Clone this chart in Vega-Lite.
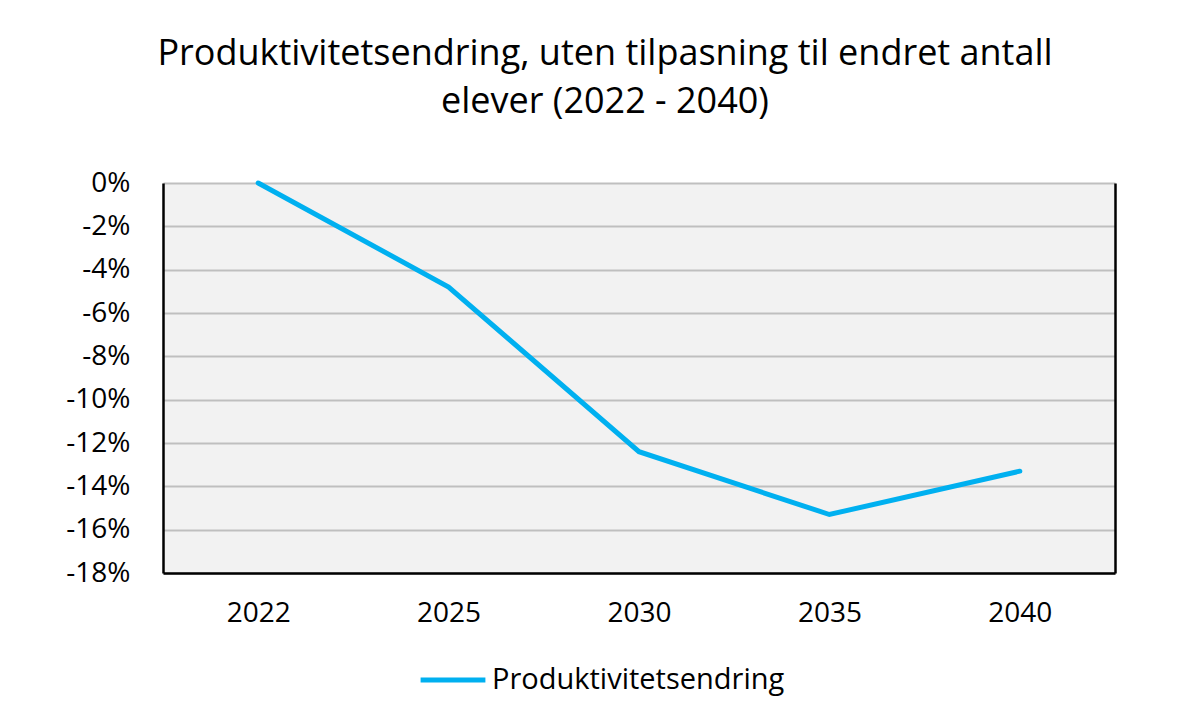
{
  "$schema": "https://vega.github.io/schema/vega-lite/v6.json",
  "autosize": "none",
  "width": 952,
  "height": 390,
  "padding": {"left": 163, "top": 183, "right": 72, "bottom": 140},
  "background": "white",
  "title": {
    "text": ["Produktivitetsendring, uten tilpasning til endret antall", "elever (2022 - 2040)"],
    "font": "Open Sans",
    "fontSize": 36,
    "fontWeight": "normal",
    "color": "#000000",
    "lineHeight": 48,
    "anchor": "middle",
    "dx": -34,
    "offset": 48
  },
  "data": {
    "values": [
      {"year": "2022", "value": 0.0, "series": "Produktivitetsendring"},
      {"year": "2025", "value": -0.048, "series": "Produktivitetsendring"},
      {"year": "2030", "value": -0.124, "series": "Produktivitetsendring"},
      {"year": "2035", "value": -0.153, "series": "Produktivitetsendring"},
      {"year": "2040", "value": -0.133, "series": "Produktivitetsendring"}
    ]
  },
  "layer": [
    {
      "mark": {"type": "line", "strokeWidth": 5, "strokeCap": "round"},
      "encoding": {
        "x": {
          "field": "year", "type": "ordinal",
          "scale": {"type": "point", "padding": 0.5},
          "axis": {
            "title": null, "labelAngle": 0, "labelFont": "Open Sans", "labelFontSize": 28,
            "labelColor": "#000000", "labelPadding": 26, "ticks": false,
            "domainColor": "#000000", "domainWidth": 2.5, "grid": false
          }
        },
        "y": {
          "field": "value", "type": "quantitative",
          "scale": {"domain": [-0.18, 0], "nice": false},
          "axis": {
            "title": null, "format": ".0%", "labelExpr": "replace(datum.label, '−', '-')",
            "values": [0, -0.02, -0.04, -0.06, -0.08, -0.1, -0.12, -0.14, -0.16, -0.18],
            "labelFont": "Open Sans", "labelFontSize": 28, "labelColor": "#000000",
            "labelPadding": 33, "ticks": false, "domainColor": "#000000", "domainWidth": 2.5,
            "grid": true, "gridColor": "#bfbfbf", "gridWidth": 2
          }
        },
        "color": {
          "field": "series", "type": "nominal",
          "scale": {"range": ["#00B0F0"]},
          "legend": {
            "title": null, "orient": "none", "legendX": 255, "legendY": 462, "direction": "horizontal",
            "symbolType": "stroke", "symbolStrokeWidth": 5, "symbolSize": 4200,
            "labelFont": "Open Sans", "labelFontSize": 29, "labelColor": "#000000",
            "labelOffset": 4, "labelLimit": 0
          }
        }
      }
    },
    {
      "mark": {"type": "line", "strokeOpacity": 0},
      "encoding": {
        "x": {"field": "year", "type": "ordinal", "scale": {"type": "point", "padding": 0.5}},
        "y": {
          "field": "value", "type": "quantitative",
          "scale": {"domain": [-0.18, 0], "nice": false},
          "axis": {"orient": "right", "title": null, "labels": false, "ticks": false, "grid": false, "domainColor": "#000000", "domainWidth": 2.5}
        }
      }
    }
  ],
  "resolve": {"axis": {"y": "independent"}},
  "config": {
    "view": {"fill": "#f2f2f2", "stroke": null}
  }
}
